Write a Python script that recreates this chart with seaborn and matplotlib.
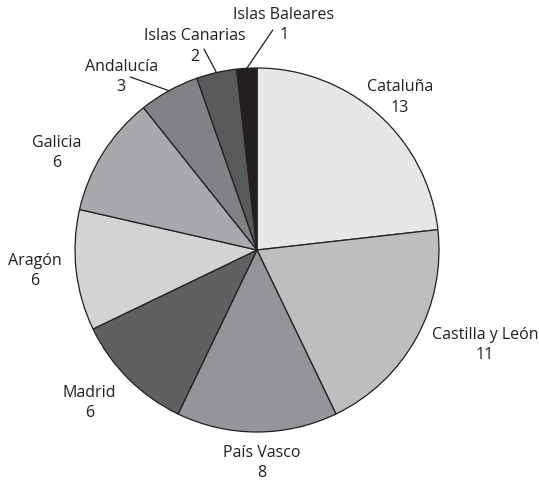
import numpy as np
import matplotlib
matplotlib.use("Agg")
import matplotlib.pyplot as plt
import seaborn as sns

# Regions and counts, clockwise from 12 o'clock
regions = ["Cataluña", "Castilla y León", "País Vasco", "Madrid", "Aragón",
           "Galicia", "Andalucía", "Islas Canarias", "Islas Baleares"]
counts = [13, 11, 8, 6, 6, 6, 3, 2, 1]
shades = ["#e6e7e8", "#bcbec0", "#939598", "#5f6062", "#d1d3d4",
          "#a7a9ac", "#808285", "#58595b", "#231f20"]

sns.set_theme(style="white")
plt.rcParams["font.family"] = ["Open Sans", "DejaVu Sans"]

W, H = 539, 482
fig = plt.figure(figsize=(W / 100, H / 100), dpi=100)
ax = fig.add_axes([0, 0, 1, 1])

cx, cy, r = 257, 232, 182
wedges, _ = ax.pie(counts, colors=shades, startangle=90, counterclock=False,
                   center=(cx, cy), radius=r, frame=True,
                   wedgeprops=dict(edgecolor="#231f20", linewidth=0.9))
ax.set_xlim(0, W)
ax.set_ylim(0, H)
ax.set_aspect("equal")
ax.axis("off")

# label placement: angle offset from the wedge middle (deg), distance in radii,
# and where a leader line starts relative to the label centre (None = no line)
layout = {
    "Cataluña": (-1.4, 1.149, None),
    "Castilla y León": (6.3, 1.357, None),
    "País Vasco": (1.2, 1.171, None),
    "Madrid": (-2.6, 1.247, None),
    "Aragón": (-1.0, 1.225, None),
    "Galicia": (6.2, 1.221, None),
    "Andalucía": (9.2, 1.209, (9, 0)),
    "Islas Canarias": (4.1, 1.169, (9, -2.5)),
    "Islas Baleares": (-10.0, 1.245, (-11, -5)),
}

for w, name, n in zip(wedges, regions, counts):
    mid = 0.5 * (w.theta1 + w.theta2)
    dth, f, lead = layout[name]
    a = np.deg2rad(mid + dth)
    tx, ty = cx + f * r * np.cos(a), cy + f * r * np.sin(a)
    ax.text(tx, ty, f"{name}\n{n}", ha="center", va="center",
            fontsize=11.5, color="#231f20", linespacing=1.35)
    if lead is not None:
        m = np.deg2rad(mid)
        ex, ey = cx + r * np.cos(m), cy + r * np.sin(m)
        ax.plot([tx + lead[0], ex], [ty + lead[1], ey],
                color="#231f20", linewidth=0.9)

fig.savefig("out.png", dpi=100)
